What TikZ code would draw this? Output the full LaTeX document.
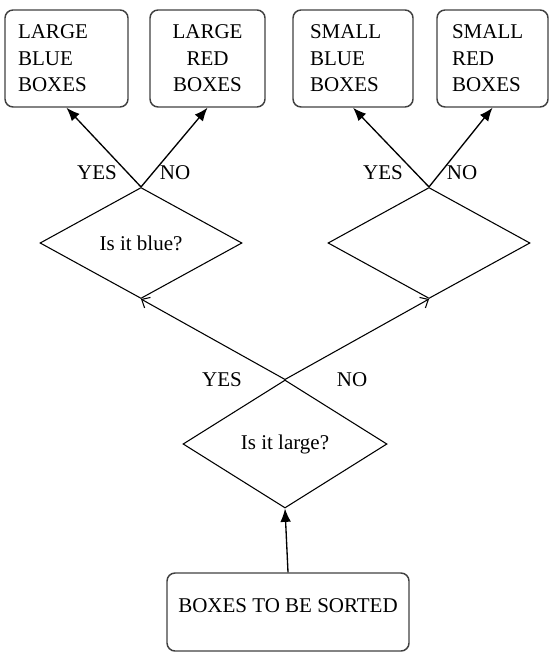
\documentclass[tikz,border=0pt]{standalone}
\usepackage{fontspec}
\setmainfont{Liberation Serif}
\usetikzlibrary{shapes.geometric,arrows.meta,positioning}

\begin{document}
\begin{tikzpicture}[x=0.75pt, y=-0.75pt,
	every node/.style={font=\fontsize{15.75}{19.9}\selectfont},
	sortbox/.style={draw=black!75, line width=1.1pt, rounded corners=6pt, minimum height=72.75pt},
	question/.style={draw, diamond, inner sep=0pt, line width=0.8pt},
	answer/.style={inner sep=0pt},
	solid arrow/.style={line width=1pt, -{Latex[length=10pt,width=8pt]}},
	open arrow/.style={line width=0.8pt, -{Straight Barb[length=5pt,width=9pt]}}]
	\useasboundingbox (0,0) rectangle (550,652);

	% result boxes
	\node[sortbox, inner xsep=9.75pt, text width=72.75pt, align=left] (lb) at (66.5,58.5) {LARGE\\BLUE\\BOXES};
	\node[sortbox, inner xsep=10pt, text width=66.25pt, align=center] (lr) at (207.5,58.5) {LARGE\\RED\\BOXES};
	\node[sortbox, inner xsep=12.75pt, text width=64.5pt, align=left] (sb) at (353,58.5) {SMALL\\BLUE\\BOXES};
	\node[sortbox, inner xsep=11.25pt, text width=60.75pt, align=left] (sr) at (492.5,58.5) {SMALL\\RED\\BOXES};

	% questions
	\node[question, minimum width=151.5pt, minimum height=83.25pt] (blue) at (141,243) {Is it blue?};
	\node[question, minimum width=151.5pt, minimum height=83.25pt] (blue2) at (429,243) {};
	\node[question, minimum width=153pt, minimum height=96pt] (large) at (285,444) {Is it large?};

	% start
	\node[sortbox, minimum width=181.5pt, minimum height=58.5pt, text depth=9.75pt] (sorted) at (288,612) {BOXES TO BE SORTED};

	\draw[solid arrow] (sorted.north) -- (large.south);
	\draw[open arrow] (large.north) -- (blue.south);
	\draw[open arrow] (large.north) -- (blue2.south);
	\foreach \q/\a/\b in {blue/lb/lr, blue2/sb/sr} {
		\draw[solid arrow] (\q.north) -- (\a.south);
		\draw[solid arrow] (\q.north) -- (\b.south);
	}

	% answers
	\node[answer] (yes1) at ([shift={(-44,-14)}]blue.north) {YES};
	\node[answer] (no1) at ([shift={(34,-14)}]blue.north) {NO};
	\node[answer] (yes2) at ([shift={(-46,-14)}]blue2.north) {YES};
	\node[answer] (no2) at ([shift={(33,-14)}]blue2.north) {NO};
	\node[answer] (yes3) at ([shift={(-63,0)}]large.north) {YES};
	\node[answer] (no3) at ([shift={(67,0)}]large.north) {NO};
\end{tikzpicture}
\end{document}
